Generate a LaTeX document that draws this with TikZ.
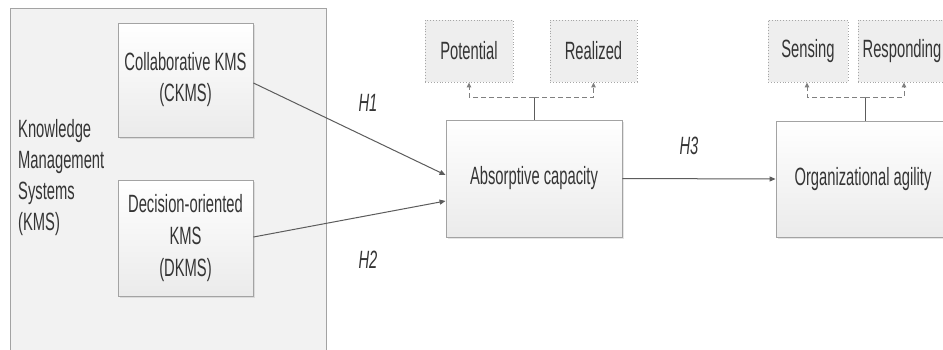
\documentclass[tikz,border=0pt]{standalone}
\usepackage{fontspec}
\setmainfont{Liberation Sans}[FakeStretch=0.59]
\usetikzlibrary{arrows.meta,shadows,calc}
\definecolor{boxline}{HTML}{A3A3A3}
\definecolor{txt}{HTML}{353535}
\definecolor{arr}{HTML}{5C5C5C}
\definecolor{outerfill}{HTML}{F2F2F2}
\definecolor{dotfill}{HTML}{EEEEEE}
\tikzset{
  bigfont/.style={font=\fontsize{25}{31}\selectfont},
  box/.style={draw=boxline, line width=0.9pt, top color=white, bottom color=black!8,
    drop shadow={shadow xshift=1.5pt, shadow yshift=-1.5pt, opacity=0.2},
    inner sep=0pt, align=center, text=txt, bigfont},
  outerbox/.style={draw=boxline, line width=0.9pt, fill=outerfill, inner sep=0pt},
  dotbox/.style={draw=black!35, dotted, line width=0.9pt, fill=dotfill, inner sep=0pt,
    align=center, text=txt, bigfont},
  conn/.style={draw=arr, line width=1pt, -{Triangle[length=6pt,width=5pt]}},
  plainln/.style={draw=arr, line width=0.9pt},
  dashconn/.style={draw=black!50, line width=1pt, dash pattern=on 5pt off 3pt,
    -{Triangle[length=5pt,width=4.5pt]}},
  lab/.style={font=\fontsize{25}{31}\selectfont\itshape, text=txt}
}
\begin{document}
\begin{tikzpicture}[x=1pt, y=-1pt, bigfont, text=txt]
\clip (0,0) rectangle (943,349);
\fill[white] (0,0) rectangle (943,349);

\node[outerbox, minimum width=316pt, minimum height=380pt, anchor=north west] (kms) at (10,8) {};
\node[anchor=west, align=left, inner sep=0pt] (kmslabel) at (18,178) {Knowledge\\Management\\Systems\\(KMS)};

\node[box, minimum width=135pt, minimum height=114pt] (ckms) at (185.5,80) {Collaborative KMS\\(CKMS)};
\node[box, minimum width=135pt, minimum height=116pt] (dkms) at (185.5,238) {Decision-oriented\\[1pt]KMS\\[1pt](DKMS)};

\node[box, minimum width=176pt, minimum height=117pt] (ac) at (534,178.5) {Absorptive capacity};
\node[box, minimum width=174pt, minimum height=116pt] (oa) at (863,179) {Organizational agility};

\node[dotbox, minimum width=88pt, minimum height=62pt] (pot) at (469,51) {Potential};
\node[dotbox, minimum width=87pt, minimum height=62pt] (real) at (593.5,51) {Realized};
\node[dotbox, minimum width=80pt, minimum height=62pt] (sens) at (808,51) {Sensing};
\node[dotbox, minimum width=88pt, minimum height=62pt] (resp) at (902,51) {Responding};

\draw[conn] ($(ckms.east)+(0,3)$) -- ($(ac.west)+(0,-3.5)$);
\draw[conn] ($(dkms.east)+(0,-1)$) -- ($(ac.west)+(0,22.5)$);
\draw[conn] (ac.east) -- (oa.west);

\node[lab] (h1) at (368,103) {H1};
\node[lab] (h2) at (368,260) {H2};
\node[lab] (h3) at (689,146) {H3};

\coordinate (acj) at (534,97);
\draw[plainln] (ac.north) -- (acj);
\draw[dashconn] (acj) -| (pot.south);
\draw[dashconn] (acj) -| (real.south);

\coordinate (oaj) at (865,97);
\draw[plainln] (oaj |- oa.north) -- (oaj);
\draw[dashconn] (oaj) -| ($(sens.south)+(-1,0)$);
\draw[dashconn] (oaj) -| ($(resp.south)+(2,0)$);
\end{tikzpicture}
\end{document}
